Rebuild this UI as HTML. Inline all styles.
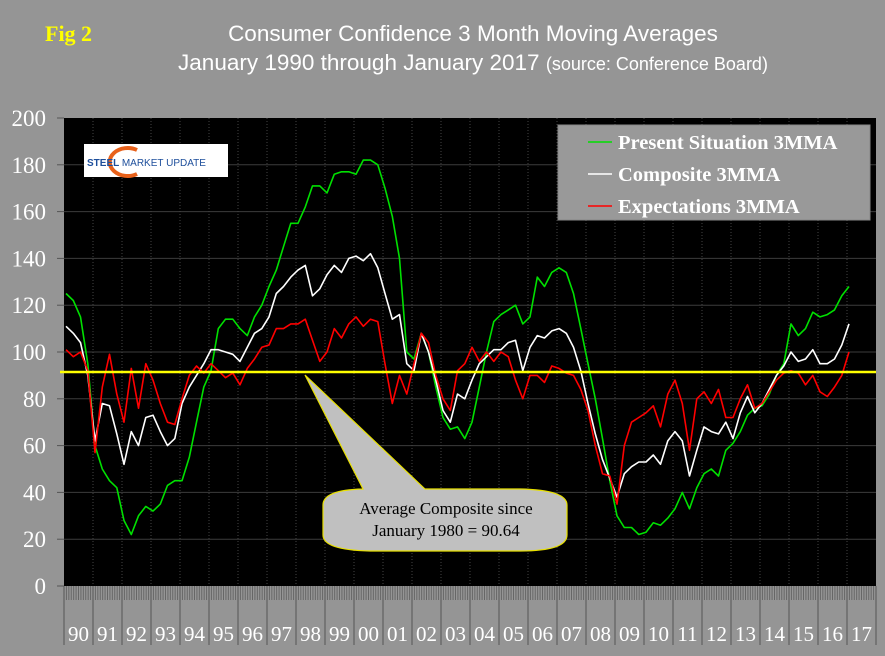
<!DOCTYPE html>
<html><head><meta charset="utf-8"><style>
html,body{margin:0;padding:0;background:#959595;}
svg{display:block;}
</style></head><body>
<svg id="chart" width="885" height="656" xmlns="http://www.w3.org/2000/svg">
<rect x="0" y="0" width="885" height="656" fill="#959595"/>
<text x="45" y="41" font-family="Liberation Serif, serif" font-weight="bold" font-size="22" fill="#ffff00">Fig 2</text>
<text x="473" y="41" text-anchor="middle" font-family="Liberation Sans, sans-serif" font-size="22.5" fill="#fff">Consumer Confidence 3 Month Moving Averages</text>
<text x="473" y="70" text-anchor="middle" font-family="Liberation Sans, sans-serif" font-size="22.5" fill="#fff">January 1990 through January 2017 <tspan font-size="18">(source: Conference Board)</tspan></text>
<rect x="64" y="118" width="812" height="468" fill="#000"/>
<g id="grid"></g>
<g id="axes"></g>
<g id="series"></g>
<line x1="60" y1="372" x2="876" y2="372" stroke="#ffff00" stroke-width="2.5"/>
<g>
<rect x="84" y="144" width="144" height="33" fill="#fff"/>
<path d="M137,150 A18,14 0 1 0 137,174" fill="none" stroke="#e8611a" stroke-width="4"/>
<text x="87" y="166" font-family="Liberation Sans, sans-serif" font-weight="bold" font-size="10" fill="#1d4e9b">STEEL <tspan font-weight="normal">MARKET UPDATE</tspan></text>
</g>
<g>
<rect x="558" y="125" width="312" height="95" fill="#999" stroke="#888"/>
<line x1="588" y1="142" x2="612" y2="142" stroke="#00e000" stroke-width="1.5"/>
<text x="618" y="149" font-family="Liberation Serif, serif" font-weight="bold" font-size="20.5" fill="#fff">Present Situation 3MMA</text>
<line x1="588" y1="174" x2="612" y2="174" stroke="#fff" stroke-width="1.5"/>
<text x="618" y="181" font-family="Liberation Serif, serif" font-weight="bold" font-size="20.5" fill="#fff">Composite 3MMA</text>
<line x1="588" y1="206" x2="612" y2="206" stroke="#ff0000" stroke-width="1.5"/>
<text x="618" y="213" font-family="Liberation Serif, serif" font-weight="bold" font-size="20.5" fill="#fff">Expectations 3MMA</text>
</g>
<g>
<path d="M305,375 L425,489 L520,489 Q567,490 567,505 L567,535 Q567,551 520,551 L370,551 Q323,550 323,535 L323,505 Q323,490 363,489 Z" fill="#c0c0c0" stroke="#e8e000" stroke-width="1.2"/>
<text x="446" y="514" text-anchor="middle" font-family="Liberation Serif, serif" font-size="17" fill="#000">Average Composite since</text>
<text x="446" y="536" text-anchor="middle" font-family="Liberation Serif, serif" font-size="17" fill="#000">January 1980 = 90.64</text>
</g>
</svg>
<script>
const yTicks = [0,20,40,60,80,100,120,140,160,180,200];
const yearLabels = ["90","91","92","93","94","95","96","97","98","99","00","01","02","03","04","05","06","07","08","09","10","11","12","13","14","15","16","17"];
// quarterly values Jan 1990 .. Jan 2017
const presentSituation = [125,122,115,95, 60,50,45,42, 28,22,30,34, 32,35,43,45, 45,55,70,85, 92,110,114,114, 110,107,115,120, 128,135,145,155, 155,162,171,171, 168,176,177,177, 176,182,182,180, 170,158,140,100, 97,108,100,85, 72,67,68,63, 70,85,100,113, 116,118,120,112, 115,132,128,134, 136,134,125,110, 95,80,63,45, 30,25,25,22, 23,27,26,29, 33,40,33,42, 48,50,47,58, 61,66,73,76, 77,82,90,95, 112,107,110,117, 115,116,118,124, 128];
const composite = [111,108,104,90, 62,78,77,65, 52,66,60,72, 73,66,60,63, 78,85,90,95, 101,101,100,99, 96,102,108,110, 115,125,128,132, 135,137,124,127, 133,137,134,140, 141,139,142,136, 125,114,116,95, 92,108,100,88, 75,70,82,80, 88,95,98,101, 101,104,105,92, 102,107,106,109, 110,108,102,92, 78,65,54,46, 38,48,51,53, 53,56,52,62, 66,62,47,58, 68,66,65,70, 63,74,81,74, 78,84,90,94, 100,96,97,101, 95,95,97,103, 112];
const expectations = [101,98,100,92, 57,85,99,82, 70,93,76,95, 88,78,70,69, 80,90,94,91, 95,92,89,91, 86,93,97,102, 103,110,110,112, 112,114,105,96, 100,110,106,112, 115,111,114,113, 95,78,90,82, 95,108,104,90, 80,75,92,95, 102,96,100,96, 100,98,88,80, 90,90,87,94, 93,91,90,84, 75,60,48,47, 35,60,70,72, 74,77,68,82, 88,78,58,80, 83,78,84,72, 72,80,86,76, 78,83,88,91, 92,91,86,90, 83,81,85,90, 100];
const NS="http://www.w3.org/2000/svg";
const X0=64, YW=29, Y0=586, PX=2.34;
function xMonth(m){return X0+2+m*YW/12;}
function yVal(v){return Y0-v*PX;}
const grid=document.getElementById('grid'), axes=document.getElementById('axes'), series=document.getElementById('series');
yTicks.forEach(t=>{
  const y=yVal(t);
  if(t>0&&t<200){const l=document.createElementNS(NS,'line');
  l.setAttribute('x1',X0);l.setAttribute('x2',876);l.setAttribute('y1',y);l.setAttribute('y2',y);
  l.setAttribute('stroke','#3c3c3c');l.setAttribute('stroke-width','1');
  
  
  grid.appendChild(l);}
  const tk=document.createElementNS(NS,'line');
  tk.setAttribute('x1',57);tk.setAttribute('x2',X0);tk.setAttribute('y1',y);tk.setAttribute('y2',y);tk.setAttribute('stroke','#555');
  
  
  axes.appendChild(tk);
  const tx=document.createElementNS(NS,'text');
  tx.setAttribute('x',46);tx.setAttribute('y',y+8);tx.setAttribute('text-anchor','end');
  tx.setAttribute('font-family','Liberation Serif, serif');tx.setAttribute('font-size','23');tx.setAttribute('fill','#fff');
  tx.textContent=t;
  
  
  axes.appendChild(tx);
});
yearLabels.forEach((lab,i)=>{
  const x=X0+i*YW;
  if(i>0){const g=document.createElementNS(NS,'line');
  g.setAttribute('x1',x);g.setAttribute('x2',x);g.setAttribute('y1',118);g.setAttribute('y2',586);
  g.setAttribute('stroke','#444');g.setAttribute('stroke-dasharray','1,2');
  
  
  grid.appendChild(g);}
  const s=document.createElementNS(NS,'line');
  s.setAttribute('x1',x);s.setAttribute('x2',x);s.setAttribute('y1',586);s.setAttribute('y2',645);s.setAttribute('stroke','#555');
  
  
  axes.appendChild(s);
  for(let m=1;m<12;m++){const mt=document.createElementNS(NS,'line');const mx=x+m*YW/12;
    mt.setAttribute('x1',mx);mt.setAttribute('x2',mx);mt.setAttribute('y1',586);mt.setAttribute('y2',600);mt.setAttribute('stroke','#666');
    
    
    axes.appendChild(mt);}
  const t=document.createElementNS(NS,'text');
  t.setAttribute('x',x+YW/2);t.setAttribute('y',641);t.setAttribute('text-anchor','middle');
  t.setAttribute('font-family','Liberation Serif, serif');t.setAttribute('font-size','21');t.setAttribute('fill','#fff');
  t.textContent=lab;
  
  
  axes.appendChild(t);
});
const ex=document.createElementNS(NS,'line');
ex.setAttribute('x1',876);ex.setAttribute('x2',876);ex.setAttribute('y1',586);ex.setAttribute('y2',645);ex.setAttribute('stroke','#555');


axes.appendChild(ex);
function drawSeries(vals,color,name){
  const p=document.createElementNS(NS,'polyline');
  p.setAttribute('points',vals.map((v,i)=>xMonth(i*3).toFixed(1)+','+yVal(v).toFixed(1)).join(' '));
  p.setAttribute('fill','none');p.setAttribute('stroke',color);p.setAttribute('stroke-width','1.6');p.setAttribute('stroke-linejoin','round');
  
  
  series.appendChild(p);
}
drawSeries(presentSituation,'#00e000','present-situation-line');
drawSeries(composite,'#ffffff','composite-line');
drawSeries(expectations,'#ff0000','expectations-line');
</script>
</body></html>
